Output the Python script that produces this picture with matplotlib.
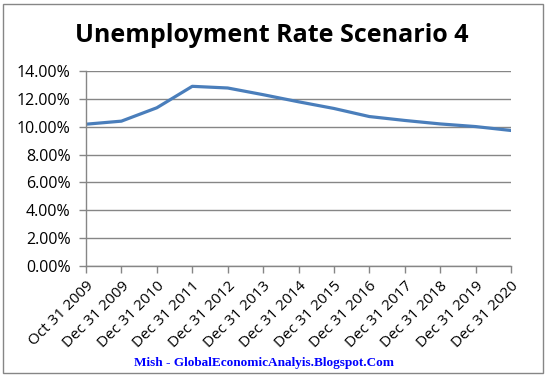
import numpy as np
import matplotlib
matplotlib.use("Agg")
import matplotlib.pyplot as plt
from matplotlib.ticker import PercentFormatter
from matplotlib.patches import Rectangle

# data
dates = ["Oct 31 2009", "Dec 31 2009", "Dec 31 2010", "Dec 31 2011",
         "Dec 31 2012", "Dec 31 2013", "Dec 31 2014", "Dec 31 2015",
         "Dec 31 2016", "Dec 31 2017", "Dec 31 2018", "Dec 31 2019",
         "Dec 31 2020"]
rate = [10.18, 10.4, 11.36, 12.9, 12.78, 12.3, 11.79, 11.31,
        10.73, 10.45, 10.2, 10.01, 9.73]
y_ticks = [0, 2, 4, 6, 8, 10, 12, 14]

grey = "#868686"

fig = plt.figure(figsize=(5.47, 3.76), dpi=100)
ax = fig.add_axes([86/547, 1 - 266/376, (511 - 86)/547, (266 - 71)/376])

x = np.arange(len(dates))
ax.plot(x, rate, color="#4A7EBB", linewidth=2.3, solid_capstyle="round")

ax.set_xlim(0, len(dates) - 1)
ax.set_ylim(0, 14)
ax.set_yticks(y_ticks)
ax.yaxis.set_major_formatter(PercentFormatter(decimals=2))
ax.set_xticks(x)
ax.set_xticklabels(dates, rotation=45, ha="right", rotation_mode="anchor",
                   fontsize=11, family="Open Sans")
for lab in ax.get_yticklabels():
    lab.set_family("Open Sans")
    lab.set_fontsize(11.5)

ax.grid(axis="y", color=grey, linewidth=1)
ax.set_axisbelow(True)
for s in ["top", "right"]:
    ax.spines[s].set_visible(False)
for s in ["left", "bottom"]:
    ax.spines[s].set_color(grey)
    ax.spines[s].set_linewidth(1)
ax.tick_params(axis="both", color=grey, length=5, width=1)
ax.tick_params(axis="y", pad=6)
ax.tick_params(axis="x", pad=4)

fig.text(272/547, 1 - 36/376, "Unemployment Rate Scenario 4", ha="center", va="center",
         fontsize=18, fontweight="bold", family="Open Sans")
fig.text(264/547, 1 - 363/376, "Mish - GlobalEconomicAnalyis.Blogspot.Com",
         ha="center", va="center", fontsize=9.5, fontweight="bold",
         family="Liberation Serif", color="#0000FF")

# chart border
fig.patches.append(Rectangle((3/547, 3/376), 540/547, 369/376, transform=fig.transFigure,
                             fill=False, edgecolor=grey, linewidth=1))

fig.savefig("out.png", dpi=100)
